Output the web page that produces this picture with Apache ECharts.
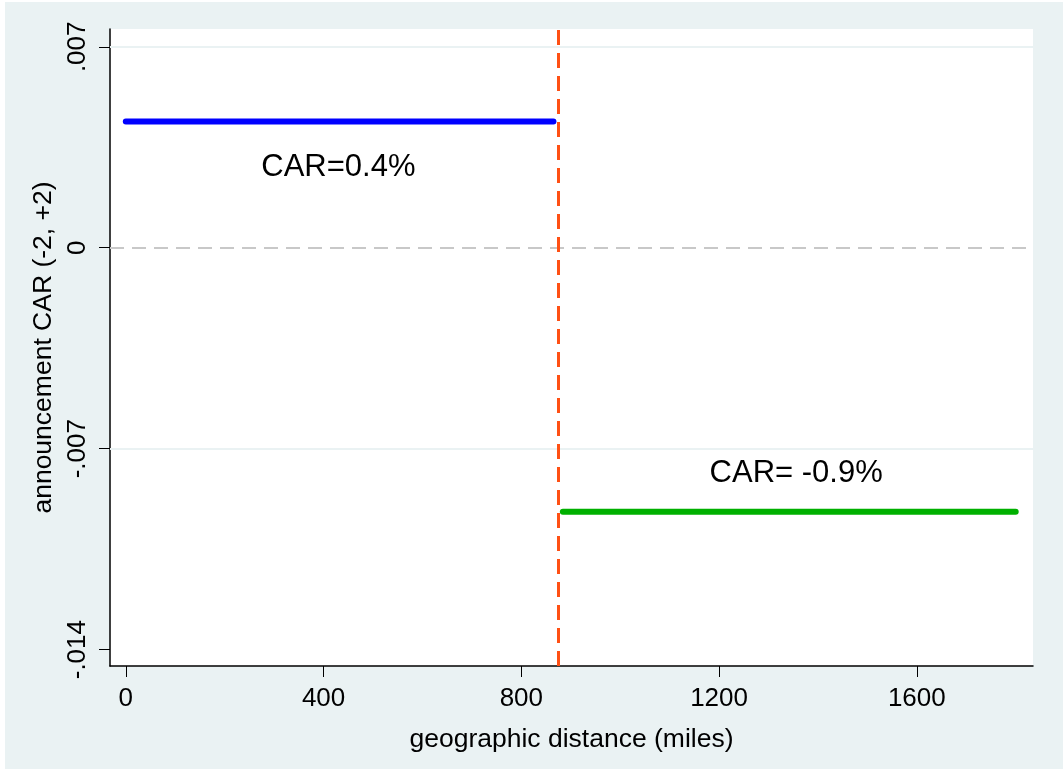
<!DOCTYPE html>
<html>
<head>
<meta charset="utf-8">
<script src="https://cdn.jsdelivr.net/npm/echarts@6/dist/echarts.min.js"></script>
<style>
html,body{margin:0;padding:0;background:#fff;}
#c{width:1063px;height:769px;}
</style>
</head>
<body>
<div id="c"></div>
<script>
// ---- data ----
const xTicks = [0, 400, 800, 1200, 1600];
const yTicks = [-0.014, -0.007, 0, 0.007];
const yTickLabels = ['-.014', '-.007', '0', '.007'];
const nearLine = [[0, 0.0044], [865, 0.0044]];
const farLine = [[884, -0.0092], [1800, -0.0092]];
const cutoff = 874;
const gridYs = [0.007, -0.007];
const zeroY = 0;
const annotations = [
  { text: 'CAR=0.4%', x: 430, y: 0.0028 },
  { text: 'CAR= -0.9%', x: 1356, y: -0.00786 }
];
const xTitle = 'geographic distance (miles)';
const yTitle = 'announcement CAR (-2, +2)';

const font = '"Liberation Sans", Arial, Helvetica, sans-serif';
const chart = echarts.init(document.getElementById('c'), null, { renderer: 'canvas' });

chart.setOption({
  animation: false,
  backgroundColor: '#ffffff',
  graphic: [
    { type: 'rect', z: -10, silent: true, shape: { x: 5, y: 2, width: 1058, height: 767 }, style: { fill: '#EAF2F3' } }
  ],
  grid: { left: 110, right: 30, top: 29, bottom: 103, show: true, backgroundColor: '#ffffff', borderWidth: 0 },
  xAxis: {
    type: 'value',
    min: -32, max: 1835,
    name: xTitle, nameLocation: 'middle', nameGap: 60,
    nameTextStyle: { fontFamily: font, fontSize: 26.5, color: '#000' },
    axisLine: { show: true, onZero: false, lineStyle: { color: '#000', width: 1.5 } },
    axisTick: { show: true, length: 11, customValues: xTicks, lineStyle: { color: '#000', width: 1 } },
    axisLabel: { customValues: xTicks, margin: 20, fontFamily: font, fontSize: 26, color: '#000',
      formatter: v => String(v) },
    splitLine: { show: false }
  },
  yAxis: {
    type: 'value',
    min: -0.01457, max: 0.00762,
    name: yTitle, nameLocation: 'middle', nameGap: 53, nameRotate: 90,
    nameTextStyle: { fontFamily: font, fontSize: 26.5, color: '#000' },
    axisLine: { show: true, onZero: false, lineStyle: { color: '#000', width: 1.5 } },
    axisTick: { show: true, length: 11, customValues: yTicks, lineStyle: { color: '#000', width: 1 } },
    axisLabel: {
      customValues: yTicks, rotate: 90, margin: 19, fontFamily: font, fontSize: 26, color: '#000',
      formatter: function (v) {
        for (let i = 0; i < yTicks.length; i++) if (Math.abs(v - yTicks[i]) < 1e-9) return yTickLabels[i];
        return '';
      }
    },
    splitLine: { show: false }
  },
  series: [
    {
      type: 'line', data: [], silent: true, z: 1,
      markLine: {
        silent: true, symbol: 'none', label: { show: false }, precision: 6,
        data: gridYs.map(v => ({ yAxis: v })),
        lineStyle: { color: '#EAF2F3', width: 2, type: 'solid' }
      }
    },
    {
      type: 'line', data: [], silent: true, z: 1,
      markLine: {
        silent: true, symbol: 'none', label: { show: false }, precision: 6,
        data: [{ yAxis: zeroY }],
        lineStyle: { color: '#C8C8C8', width: 1.8, type: [14, 8] }
      }
    },
    {
      type: 'line', data: nearLine, showSymbol: false, symbol: 'none',
      lineStyle: { color: '#0000FF', width: 6, cap: 'round' }, z: 3
    },
    {
      type: 'line', data: farLine, showSymbol: false, symbol: 'none',
      lineStyle: { color: '#00B000', width: 6, cap: 'round' }, z: 3
    },
    {
      type: 'line', data: [], silent: true,
      markLine: {
        silent: true, symbol: 'none', label: { show: false }, precision: 6,
        data: [{ xAxis: cutoff }],
        lineStyle: { color: '#FF5014', width: 3, type: [15, 8] }
      }, z: 4
    },
    {
      type: 'scatter', symbolSize: 0, silent: true,
      itemStyle: { opacity: 1 },
      data: annotations.map(a => ({ value: [a.x, a.y], name: a.text })),
      label: {
        show: true, position: 'inside', formatter: p => p.name,
        fontFamily: font, fontSize: 31, color: '#000', textBorderWidth: 0, textBorderColor: 'transparent'
      }
    }
  ]
});
</script>
</body>
</html>
